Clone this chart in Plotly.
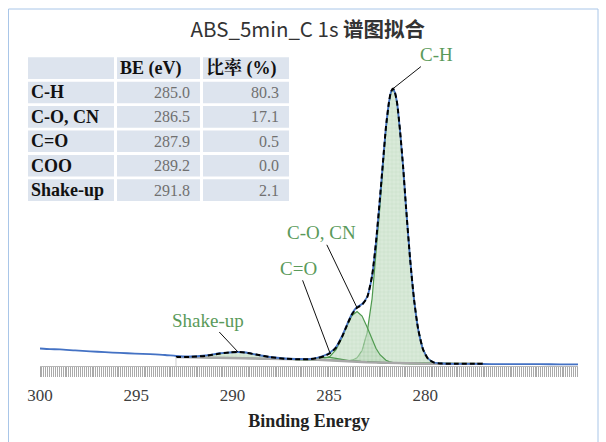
import plotly.graph_objects as go

# ---------------- data ----------------
# energy grid of the fitted region (eV)
energy_fit = [292.94, 292.21, 291.43, 290.65, 290.13, 289.72, 289.30, 288.79, 288.06, 287.28,
              286.50, 285.98, 285.57, 285.25, 284.94, 284.63, 284.32, 284.06, 283.80, 283.54,
              283.28, 283.02, 282.76, 282.56, 282.35, 282.19, 282.04, 281.88, 281.78, 281.67,
              281.57, 281.46, 281.31, 281.15, 281.00, 280.79, 280.58, 280.37, 280.11, 279.85,
              279.54, 279.13, 278.45, 277.67, 277.00]

background = [9.0, 8.8, 8.6, 8.4, 8.2, 8.0, 7.8, 7.5, 7.2, 6.9,
              6.6, 6.4, 6.2, 6.0, 5.8, 5.6, 5.3, 5.0, 4.7, 4.4,
              4.1, 3.8, 3.6, 3.4, 3.3, 3.2, 3.1, 3.0, 2.9, 2.8,
              2.7, 2.6, 2.5, 2.4, 2.4, 2.4, 2.4, 2.4, 2.3, 2.3,
              2.3, 2.3, 2.3, 2.3, 2.3]

comp_ch = [0, 0, 0, 0, 0, 0, 0, 0, 0, 0,
           0, 0, 0, 0, 0, 0, 0.05, 0.25, 1.1, 3.8,
           11.4, 29.3, 63.8, 105.5, 156.8, 196.9, 233.0, 259.9, 270.4, 274.0,
           270.4, 259.9, 233.0, 196.9, 156.8, 105.5, 63.8, 34.7, 14.0, 4.8,
           1.1, 0.1, 0, 0, 0]

comp_co = [0, 0, 0, 0, 0, 0, 0, 0, 0, 0,
           0, 0, 0.25, 1.1, 4.0, 10.8, 22.9, 35.3, 45.8, 50.0,
           45.8, 35.3, 22.9, 14.3, 8.0, 4.8, 2.7, 1.4, 0.9, 0.6,
           0.3, 0.2, 0.1, 0, 0, 0, 0, 0, 0, 0,
           0, 0, 0, 0, 0]

comp_c_o = [0, 0, 0, 0, 0, 0, 0, 0, 0, 0,
            0, 0.4, 1.6, 2.7, 2.9, 2.0, 0.9, 0.3, 0.1, 0,
            0, 0, 0, 0, 0, 0, 0, 0, 0, 0,
            0, 0, 0, 0, 0, 0, 0, 0, 0, 0,
            0, 0, 0, 0, 0]

comp_shake = [0.05, 0.3, 1.5, 4.0, 5.5, 6.0, 5.5, 4.0, 1.7, 0.4,
              0.05, 0, 0, 0, 0, 0, 0, 0, 0, 0,
              0, 0, 0, 0, 0, 0, 0, 0, 0, 0,
              0, 0, 0, 0, 0, 0, 0, 0, 0, 0,
              0, 0, 0, 0, 0]

# measured spectrum
energy_raw = [300.00, 299.48, 298.96, 298.18, 297.40, 296.63, 295.85, 295.07, 294.29, 293.51,
              292.94, 292.21, 291.43, 290.65, 290.13, 289.72, 289.30, 288.79, 288.06, 287.28,
              286.50, 285.98, 285.57, 285.25, 284.94, 284.63, 284.32, 284.06, 283.80, 283.54,
              283.28, 283.02, 282.76, 282.56, 282.35, 282.19, 282.04, 281.88, 281.78, 281.67,
              281.57, 281.46, 281.31, 281.15, 281.00, 280.79, 280.58, 280.37, 280.11, 279.85,
              279.54, 279.13, 278.45, 277.67, 277.00, 276.12, 275.08, 274.04, 273.00, 272.07]
intensity_raw = [17.5, 16.9, 16.6, 15.6, 14.7, 13.8, 13.1, 12.4, 11.8, 11.0,
                 10.0, 9.5, 10.5, 12.8, 13.5, 14.0, 13.5, 11.5, 9.0, 7.5,
                 7.0, 7.0, 8.5, 10.5, 13.5, 19.0, 30.0, 41.5, 52.5, 59.0,
                 62.0, 69.0, 90.0, 123.0, 168.0, 205.0, 239.0, 264.0, 274.0, 277.0,
                 273.0, 263.0, 235.0, 199.0, 159.0, 108.0, 66.0, 37.0, 16.5, 7.5,
                 3.5, 2.5, 2.2, 2.1, 2.0, 1.8, 1.8, 1.8, 1.7, 1.7]

# table
row_labels = ["C-H", "C-O, CN", "C=O", "COO", "Shake-up"]
be_values = [285.0, 286.5, 287.9, 289.2, 291.8]
ratio_values = [80.3, 17.1, 0.5, 0.0, 2.1]
headers = ["", "BE (eV)", "比率 (%)"]

x_ticks = [300, 295, 290, 285, 280]

# ---------------- figure ----------------
W, H = 606, 442
ML, MR, MT, MB = 40, 28, 40, 76
PW, PH = W - ML - MR, H - MT - MB


def px_x(px):
    return (px - ML) / PW


def px_y(py):
    return (H - MB - py) / PH


GREEN = "#4f9a4f"
SERIF = "Liberation Serif, Times New Roman, serif"
SERIF_B = "Liberation Serif, Noto Serif CJK SC, Noto Sans CJK SC, serif"

fig = go.Figure()

components = [("C-H", comp_ch), ("C-O, CN", comp_co), ("C=O", comp_c_o), ("Shake-up", comp_shake)]
for name, comp in components:
    top = [b + c for b, c in zip(background, comp)]
    fig.add_trace(go.Scatter(
        x=energy_fit + energy_fit[::-1],
        y=top + background[::-1],
        mode="lines", fill="toself",
        line=dict(color=GREEN, width=1.2),
        fillcolor="rgba(175,212,175,0.55)",
        fillpattern=dict(shape="+", size=4, solidity=0.25,
                         fgcolor="rgba(255,255,255,0.75)",
                         bgcolor="rgba(170,208,170,0.55)"),
        hoverinfo="skip", showlegend=False, name=name))

fig.add_trace(go.Scatter(x=energy_fit, y=background, mode="lines",
                         line=dict(color="#a8a8a8", width=2.5), showlegend=False))

fig.add_trace(go.Scatter(x=energy_raw, y=intensity_raw, mode="lines",
                         line=dict(color="#4472c4", width=1.8, shape="spline", smoothing=0.6),
                         showlegend=False))

envelope = [b + a + c + d + e for b, a, c, d, e in zip(background, comp_ch, comp_co, comp_c_o, comp_shake)]
fig.add_trace(go.Scatter(x=energy_fit, y=envelope, mode="lines",
                         line=dict(color="black", width=2, dash="5px,3px", shape="spline", smoothing=0.6),
                         showlegend=False))


def peak_idx(comp):
    return max(range(len(comp)), key=lambda i: comp[i])


label_specs = [("C-H", comp_ch, 43, -34), ("C-O, CN", comp_co, -36, -75),
               ("C=O", comp_c_o, -32, -85), ("Shake-up", comp_shake, -30, -32)]
for text, comp, ax, ay in label_specs:
    i = peak_idx(comp)
    fig.add_annotation(x=energy_fit[i], y=envelope[i], xref="x", yref="y",
                       text=text, showarrow=True, arrowhead=0, arrowwidth=1,
                       arrowcolor="#111", ax=ax, ay=ay, standoff=0,
                       font=dict(family=SERIF, size=19, color="#5a9a5a"))

# table drawn with shapes + text
col_edges = [(28, 114), (117, 200), (203, 289)]
row_top0, row_pitch, row_h = 57.3, 24.4, 21.6
shapes = []
for r in range(len(row_labels) + 1):
    y0 = row_top0 + r * row_pitch
    for c, (x0, x1) in enumerate(col_edges):
        shapes.append(dict(type="rect", xref="paper", yref="paper",
                           x0=px_x(x0), x1=px_x(x1), y0=px_y(y0 + row_h), y1=px_y(y0),
                           fillcolor="#dde4ee", line=dict(width=0), layer="below"))


def cell_text(r, c, text, align, font):
    y0 = row_top0 + r * row_pitch
    x0, x1 = col_edges[c]
    if align == "left":
        x, xa = px_x(x0 + 1), "left"
    else:
        x, xa = px_x(x1 - 8), "right"
    fig.add_annotation(x=x, y=px_y(y0 + row_h / 2), xref="paper", yref="paper",
                       text=text, showarrow=False, xanchor=xa, yanchor="middle",
                       font=font)


bold_font = dict(family=SERIF_B, size=18, color="#111")
val_font = dict(family=SERIF, size=16, color="#707070")
for c, h in enumerate(headers):
    if h:
        cell_text(0, c, "<b>" + h + "</b>", "left", bold_font)
for r, lab in enumerate(row_labels, start=1):
    cell_text(r, 0, "<b>" + lab + "</b>", "left", bold_font)
    cell_text(r, 1, f"{be_values[r-1]:.1f}", "right", val_font)
    cell_text(r, 2, f"{ratio_values[r-1]:.1f}", "right", val_font)

# outer frame
shapes.append(dict(type="rect", xref="paper", yref="paper",
                   x0=px_x(8.5), x1=px_x(598), y0=px_y(460), y1=px_y(9),
                   line=dict(color="#a9c6e8", width=1), fillcolor="rgba(0,0,0,0)"))
# start marker of fit region
shapes.append(dict(type="line", xref="x", yref="y", x0=energy_fit[0], x1=energy_fit[0],
                   y0=0, y1=background[0], line=dict(color="#d0d0d0", width=1)))

fig.update_layout(
    width=W, height=H,
    margin=dict(l=ML, r=MR, t=MT, b=MB, autoexpand=False),
    paper_bgcolor="white", plot_bgcolor="white",
    title=dict(text="ABS_5min_C 1s <b>谱图拟合</b>", x=0.508, xanchor="center",
               y=1 - 30 / H, yanchor="middle",
               font=dict(family="Noto Sans CJK SC, sans-serif", size=20.5, color="#333")),
    shapes=shapes,
    showlegend=False,
    xaxis=dict(range=[300, 272.07], tickmode="array", tickvals=x_ticks,
               ticks="outside", ticklen=10, tickcolor="#a8a8a8", tickwidth=1,
               showline=True, linecolor="#b8b8b8", linewidth=1,
               showgrid=False, zeroline=False,
               minor=dict(tickmode="linear", tick0=300, dtick=0.1, ticks="outside",
                          ticklen=10, tickcolor="#aaaaaa", tickwidth=1, showgrid=False),
               tickfont=dict(family=SERIF, size=17, color="#404040"),
               ticklabelstandoff=4,
               title=dict(text="<b>Binding Energy</b>", standoff=9,
                          font=dict(family=SERIF_B, size=18, color="#222"))),
    yaxis=dict(range=[0, PH], visible=False, fixedrange=True),
)

fig.write_html("out.html", config={"displayModeBar": False},
               post_script="document.body.style.margin='0';document.body.style.padding='0';")
